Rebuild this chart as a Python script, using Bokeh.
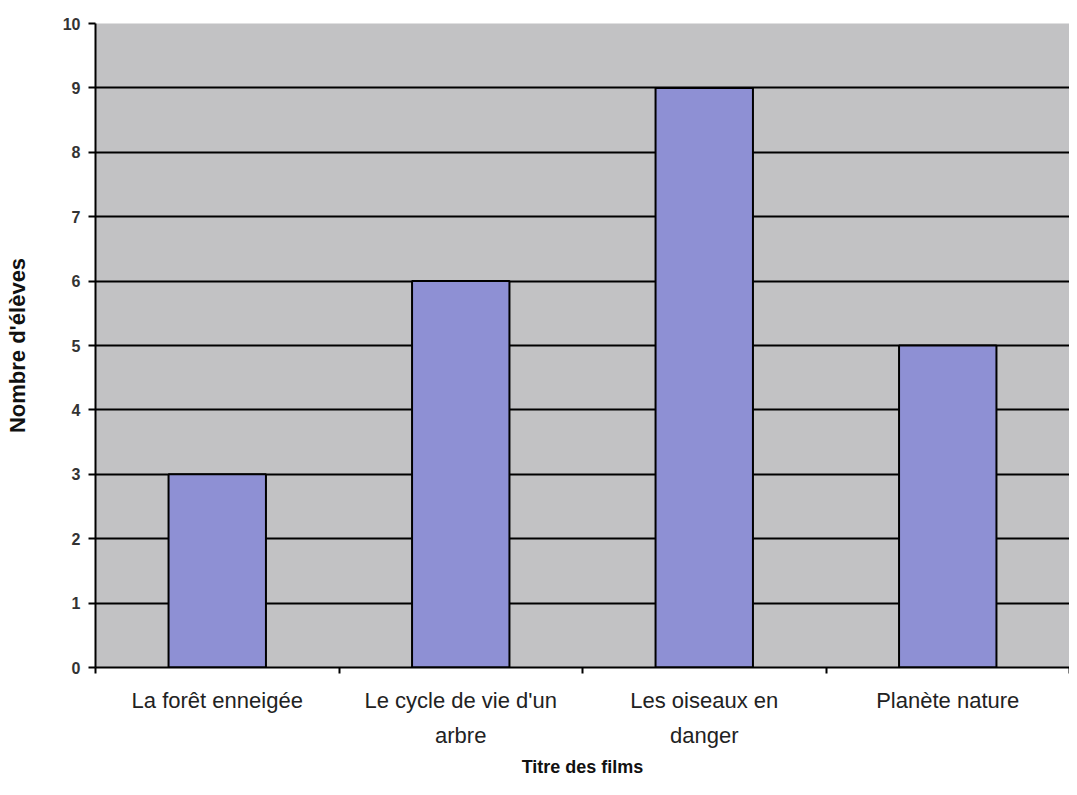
from bokeh.plotting import figure
from bokeh.models import Range1d, FixedTicker
from bokeh.embed import file_html
from bokeh.resources import INLINE

categories = ["La forêt enneigée", "Le cycle de vie d'un arbre", "Les oiseaux en danger", "Planète nature"]
tick_labels = ["La forêt enneigée", "Le cycle de vie d'un\narbre", "Les oiseaux en\ndanger", "Planète nature"]
values = [3, 6, 9, 5]
y_ticks = [0, 1, 2, 3, 4, 5, 6, 7, 8, 9, 10]

FONT = "Liberation Sans"

xs = [i + 0.5 for i in range(len(categories))]
bounds = [i for i in range(len(categories) + 1)]

p = figure(width=1069, height=779, output_backend="svg", toolbar_location=None,
           x_range=Range1d(0, len(categories)), y_range=Range1d(0, 10),
           min_border_left=95, min_border_top=23, min_border_right=0, min_border_bottom=100)

p.background_fill_color = "#c2c2c4"
p.border_fill_color = "white"
p.outline_line_color = None

p.vbar(x=xs, top=values, bottom=0, width=0.4, fill_color="#8e90d4",
       line_color="black", line_width=2)

# x axis
xa = p.xaxis[0]
xa.ticker = FixedTicker(ticks=xs, minor_ticks=bounds)
xa.major_label_overrides = {x: lab for x, lab in zip(xs, tick_labels)}
xa.major_tick_line_color = None
xa.major_tick_out = 0
xa.major_tick_in = 0
xa.minor_tick_line_color = "black"
xa.minor_tick_line_width = 2
xa.minor_tick_out = 6
xa.minor_tick_in = 0
xa.axis_line_color = "black"
xa.axis_line_width = 2
xa.major_label_text_font = FONT
xa.major_label_text_font_size = "22px"
xa.major_label_text_color = "#222222"
xa.major_label_text_line_height = 1.4
xa.major_label_standoff = 14
xa.axis_label = "Titre des films"
xa.axis_label_text_font = FONT
xa.axis_label_text_font_size = "18px"
xa.axis_label_text_font_style = "bold"
xa.axis_label_text_color = "#111111"
xa.axis_label_standoff = 6

# y axis
ya = p.yaxis[0]
ya.ticker = FixedTicker(ticks=y_ticks, minor_ticks=[])
ya.major_tick_line_color = "black"
ya.major_tick_line_width = 2
ya.major_tick_out = 7
ya.major_tick_in = 0
ya.axis_line_color = "black"
ya.axis_line_width = 2
ya.major_label_text_font = FONT
ya.major_label_text_font_size = "16px"
ya.major_label_text_font_style = "bold"
ya.major_label_text_color = "#333333"
ya.major_label_standoff = 8
ya.axis_label = "Nombre d'élèves"
ya.axis_label_text_font = FONT
ya.axis_label_text_font_size = "22px"
ya.axis_label_text_font_style = "bold"
ya.axis_label_text_color = "#111111"
ya.axis_label_standoff = 30

p.xgrid.grid_line_color = None
p.ygrid.ticker = FixedTicker(ticks=y_ticks)
p.ygrid.grid_line_color = "black"
p.ygrid.grid_line_width = 2

open("out.html", "w").write(file_html(p, INLINE))
